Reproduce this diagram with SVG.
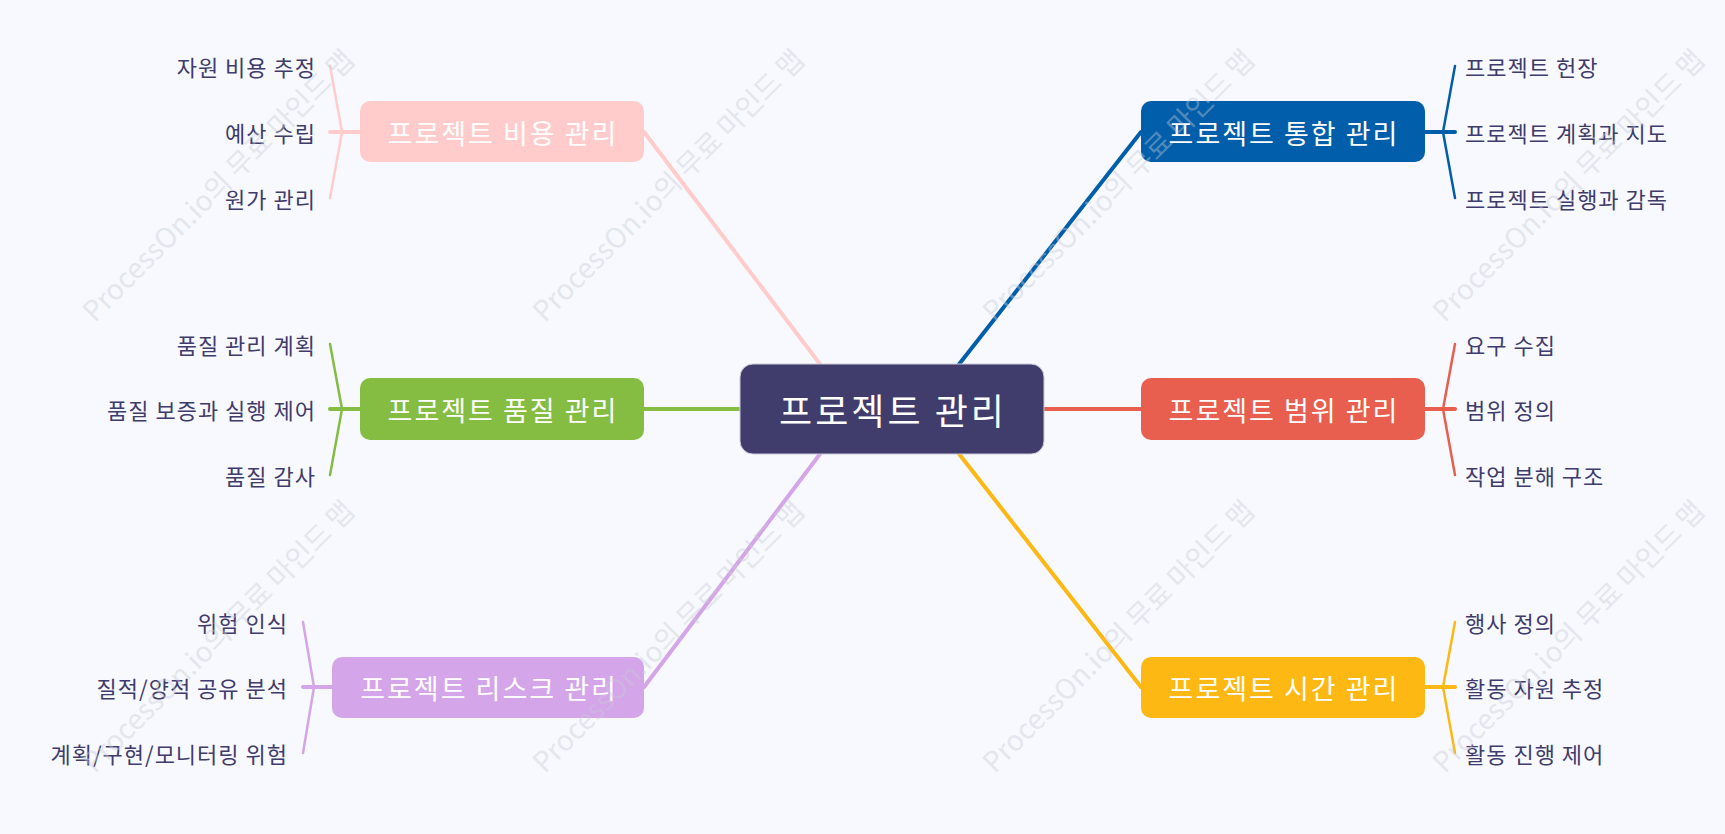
<svg xmlns="http://www.w3.org/2000/svg" width="1725" height="834" viewBox="0 0 1725 834">
<style>
text{font-family:"Noto Sans CJK KR","Noto Sans",sans-serif;}
.root{font-size:36px;letter-spacing:3px;fill:#ffffff;text-anchor:middle;dominant-baseline:central;}
.br{font-size:27px;letter-spacing:2px;fill:#ffffff;text-anchor:middle;dominant-baseline:central;}
.lf{font-size:22px;letter-spacing:1px;fill:#3F3B6C;dominant-baseline:central;}
.l{text-anchor:end;}
.r{text-anchor:start;}
.c{fill:none;stroke-width:4;stroke-linecap:round;}
.b{fill:none;stroke-width:2.5;stroke-linecap:round;stroke-linejoin:round;}
.wm{font-size:28px;fill:#C9CCD6;opacity:0.4;text-anchor:middle;dominant-baseline:central;}
</style>
<rect x="0" y="0" width="1725" height="834" fill="#F7F9FE"/>
<g id="connectors">
<line class="c" stroke="#FFCCCB" x1="644" y1="132" x2="854" y2="409"/>
<line class="c" stroke="#84BD41" x1="644" y1="409" x2="892" y2="409"/>
<line class="c" stroke="#D4A5E9" x1="644" y1="687" x2="854" y2="409"/>
<line class="c" stroke="#005EAA" x1="1141" y1="132" x2="924" y2="409"/>
<line class="c" stroke="#E85E4F" x1="1141" y1="409" x2="892" y2="409"/>
<line class="c" stroke="#FDB813" x1="1141" y1="687" x2="924" y2="409"/>
<g stroke="#FFCCCB">
<path class="b" d="M330,66 L342,132 L330,198"/>
<line class="c" x1="330" y1="132" x2="362" y2="132"/>
</g>
<g stroke="#84BD41">
<path class="b" d="M330,344 L342,409 L330,475"/>
<line class="c" x1="330" y1="409" x2="362" y2="409"/>
</g>
<g stroke="#D4A5E9">
<path class="b" d="M303,622 L314,687 L303,753"/>
<line class="c" x1="303" y1="687" x2="334" y2="687"/>
</g>
<g stroke="#005EAA">
<path class="b" d="M1455,66 L1443,132 L1455,198"/>
<line class="c" x1="1423" y1="132" x2="1455" y2="132"/>
</g>
<g stroke="#E85E4F">
<path class="b" d="M1455,344 L1443,409 L1455,475"/>
<line class="c" x1="1423" y1="409" x2="1455" y2="409"/>
</g>
<g stroke="#FDB813">
<path class="b" d="M1455,622 L1443,687 L1455,753"/>
<line class="c" x1="1423" y1="687" x2="1455" y2="687"/>
</g>
</g>
<g id="root">
<rect x="740" y="364" width="304" height="90" rx="13" fill="#403D6C" stroke="#C9CADB" stroke-width="1"/>
<text class="root" x="893" y="409">프로젝트 관리</text>
</g>
<g id="cost">
<rect x="360" y="101" width="284" height="61" rx="10" fill="#FFCCCB"/>
<text class="br" x="503" y="132">프로젝트 비용 관리</text>
</g>
<g id="quality">
<rect x="360" y="378" width="284" height="62" rx="10" fill="#84BD41"/>
<text class="br" x="503" y="409">프로젝트 품질 관리</text>
</g>
<g id="risk">
<rect x="332" y="657" width="312" height="61" rx="10" fill="#D4A5E9"/>
<text class="br" x="489" y="687">프로젝트 리스크 관리</text>
</g>
<g id="integration">
<rect x="1141" y="101" width="284" height="61" rx="10" fill="#005EAA"/>
<text class="br" x="1284" y="132">프로젝트 통합 관리</text>
</g>
<g id="scope">
<rect x="1141" y="378" width="284" height="62" rx="10" fill="#E85E4F"/>
<text class="br" x="1284" y="409">프로젝트 범위 관리</text>
</g>
<g id="time">
<rect x="1141" y="657" width="284" height="61" rx="10" fill="#FDB813"/>
<text class="br" x="1284" y="687">프로젝트 시간 관리</text>
</g>
<g id="cost-leaves">
<text class="lf l" x="316" y="66">자원 비용 추정</text>
<text class="lf l" x="316" y="132">예산 수립</text>
<text class="lf l" x="316" y="198">원가 관리</text>
</g>
<g id="quality-leaves">
<text class="lf l" x="316" y="344">품질 관리 계획</text>
<text class="lf l" x="316" y="409">품질 보증과 실행 제어</text>
<text class="lf l" x="316" y="475">품질 감사</text>
</g>
<g id="risk-leaves">
<text class="lf l" x="288" y="622">위험 인식</text>
<text class="lf l" x="288" y="687">질적/양적 공유 분석</text>
<text class="lf l" x="288" y="753">계획/구현/모니터링 위험</text>
</g>
<g id="integration-leaves">
<text class="lf r" x="1465" y="66">프로젝트 헌장</text>
<text class="lf r" x="1465" y="132">프로젝트 계획과 지도</text>
<text class="lf r" x="1465" y="198">프로젝트 실행과 감독</text>
</g>
<g id="scope-leaves">
<text class="lf r" x="1465" y="344">요구 수집</text>
<text class="lf r" x="1465" y="409">범위 정의</text>
<text class="lf r" x="1465" y="475">작업 분해 구조</text>
</g>
<g id="time-leaves">
<text class="lf r" x="1465" y="622">행사 정의</text>
<text class="lf r" x="1465" y="687">활동 자원 추정</text>
<text class="lf r" x="1465" y="753">활동 진행 제어</text>
</g>
<g id="watermarks">
<text class="wm" transform="translate(217,184) rotate(-45)">ProcessOn.io의 무료 마인드 맵</text>
<text class="wm" transform="translate(667,184) rotate(-45)">ProcessOn.io의 무료 마인드 맵</text>
<text class="wm" transform="translate(1117,184) rotate(-45)">ProcessOn.io의 무료 마인드 맵</text>
<text class="wm" transform="translate(1567,184) rotate(-45)">ProcessOn.io의 무료 마인드 맵</text>
<text class="wm" transform="translate(217,635) rotate(-45)">ProcessOn.io의 무료 마인드 맵</text>
<text class="wm" transform="translate(667,635) rotate(-45)">ProcessOn.io의 무료 마인드 맵</text>
<text class="wm" transform="translate(1117,635) rotate(-45)">ProcessOn.io의 무료 마인드 맵</text>
<text class="wm" transform="translate(1567,635) rotate(-45)">ProcessOn.io의 무료 마인드 맵</text>
</g>
</svg>
